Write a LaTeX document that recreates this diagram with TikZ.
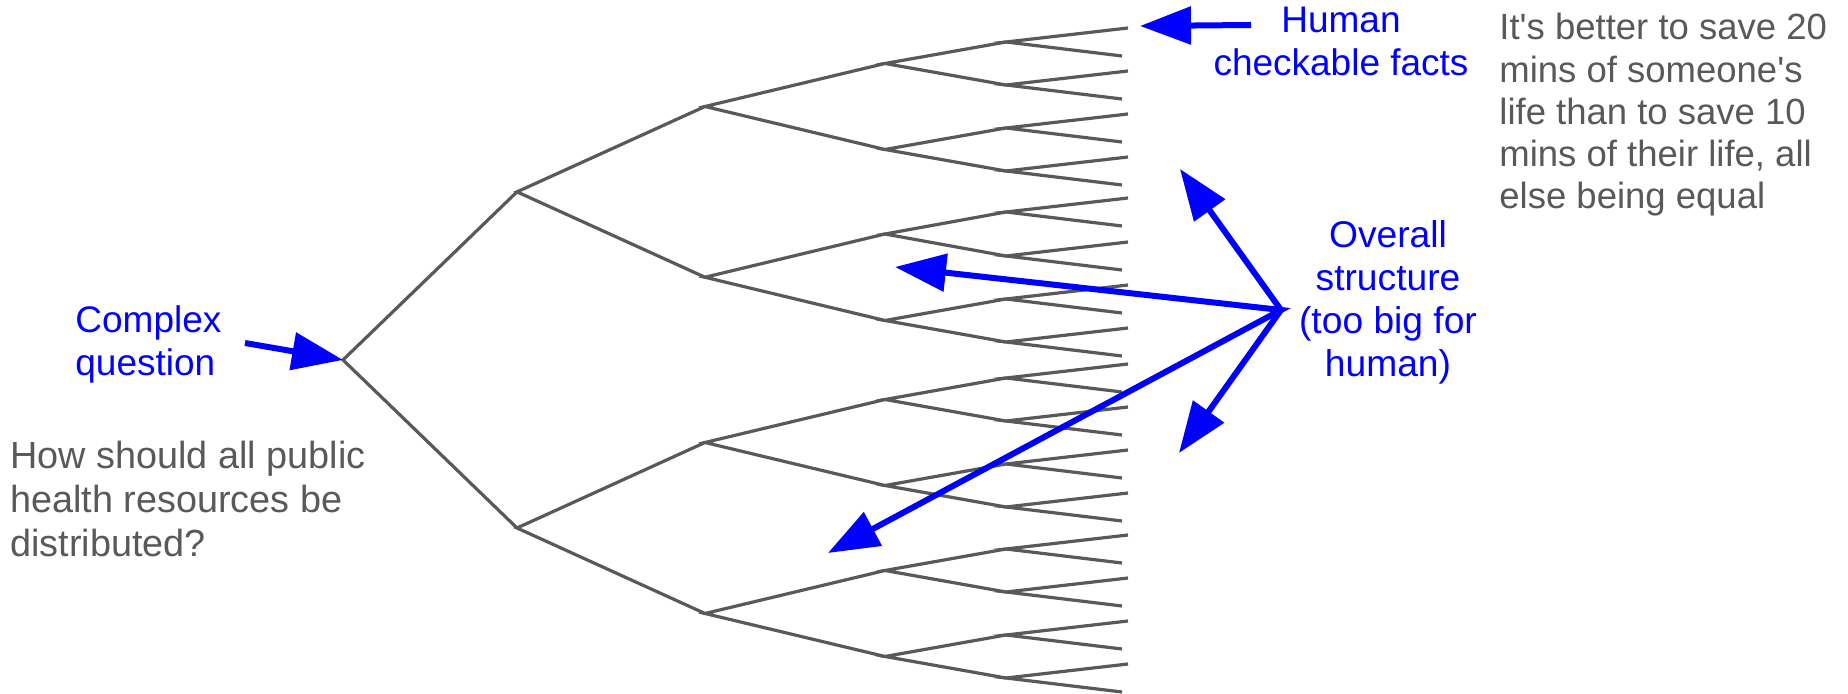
\documentclass[tikz,border=0pt]{standalone}
\usepackage{fontspec}
\setmainfont{Liberation Sans}
\usetikzlibrary{calc,arrows.meta}
\definecolor{treegray}{HTML}{595959}
\definecolor{noteblue}{HTML}{0000FF}
\tikzset{
  branch/.style={draw=treegray, line width=1.6pt},
  pointer/.style={draw=noteblue, line width=3pt, -{Triangle[length=25.5pt,width=18.5pt]}},
  twoway/.style={draw=noteblue, line width=3pt, {Triangle[length=25.5pt,width=18.5pt]}-{Triangle[length=25.5pt,width=18.5pt]}},
  bluetext/.style={text=noteblue, inner sep=0, font=\fontsize{18.5}{21.4}\selectfont},
  graytext/.style={text=treegray, inner sep=0, align=left, font=\fontsize{18.25}{21.1}\selectfont}
}
\begin{document}
\begin{tikzpicture}[x=0.5pt, y=-0.5pt]
\useasboundingbox (0,0) rectangle (1848,694);
% last forks and leaves
\foreach \y [count=\k] in {42,85,128,171,212,256,299,342,378,421,464,507,549,592,635,678} {
  \coordinate (d\k) at (1006,\y);
  \coordinate (d\k-up) at (1128,\y-14);
  \coordinate (d\k-dn) at (1122,\y+14);
  \draw[branch] (d\k-up) -- (d\k) -- (d\k-dn);
}
% inner forks
\foreach \k in {1,...,8} {
  \pgfmathtruncatemacro\ka{2*\k-1}
  \pgfmathtruncatemacro\kb{2*\k}
  \coordinate (c\k) at ($(d\ka)!0.5!(d\kb)+(-121,0)$);
  \draw[branch] (d\ka) -- (c\k) -- (d\kb);
}
\foreach \k in {1,...,4} {
  \pgfmathtruncatemacro\ka{2*\k-1}
  \pgfmathtruncatemacro\kb{2*\k}
  \coordinate (b\k) at ($(c\ka)!0.5!(c\kb)+(-180,0)$);
  \draw[branch] (c\ka) -- (b\k) -- (c\kb);
}
\coordinate (a1) at ($(b1)!0.5!(b2)+(-188,0)$);
\coordinate (a2) at ($(b3)!0.5!(b4)+(-188,0)$);
\draw[branch] (b1) -- (a1) -- (b2);
\draw[branch] (b3) -- (a2) -- (b4);
\coordinate (r) at ($(a1)!0.5!(a2)+(-174,0)$);
\draw[branch] (a1) -- (r) -- (a2);

% labels
\node[bluetext, anchor=north, align=center] (facts) at (1341,7) {Human\\checkable facts};
\node[bluetext, anchor=north, align=center, font=\fontsize{18.6}{21.6}\selectfont] (overall) at (1388,220) {Overall\\structure\\(too big for\\human)};
\node[bluetext, anchor=north west, align=left] (complex) at (75,305) {Complex\\question};
\node[graytext, anchor=north west, font=\fontsize{18.9}{22}\selectfont] (question) at (10,441) {How should all public\\health resources be\\distributed?};
\node[graytext, anchor=north west] (principle) at (1499,13) {It\textquotesingle s better to save 20\\mins of someone\textquotesingle s\\life than to save 10\\mins of their life, all\\else being equal};

% pointers
\coordinate (facts-tail) at (1251,25);
\coordinate (facts-tip) at (1140,26);
\draw[pointer] (facts-tail) -- (facts-tip);
\coordinate (complex-tail) at (245,343);
\draw[pointer] (complex-tail) -- (r);
\coordinate (hub) at (1281,310);
\coordinate (hub-up) at (1180,169);
\coordinate (hub-left) at (895,267);
\coordinate (hub-down) at (1179,453);
\coordinate (hub-far) at (828,553);
\draw[twoway] (hub-up) -- (hub) -- (hub-down);
\draw[twoway] (hub-left) -- (hub) -- (hub-far);
\end{tikzpicture}
\end{document}
